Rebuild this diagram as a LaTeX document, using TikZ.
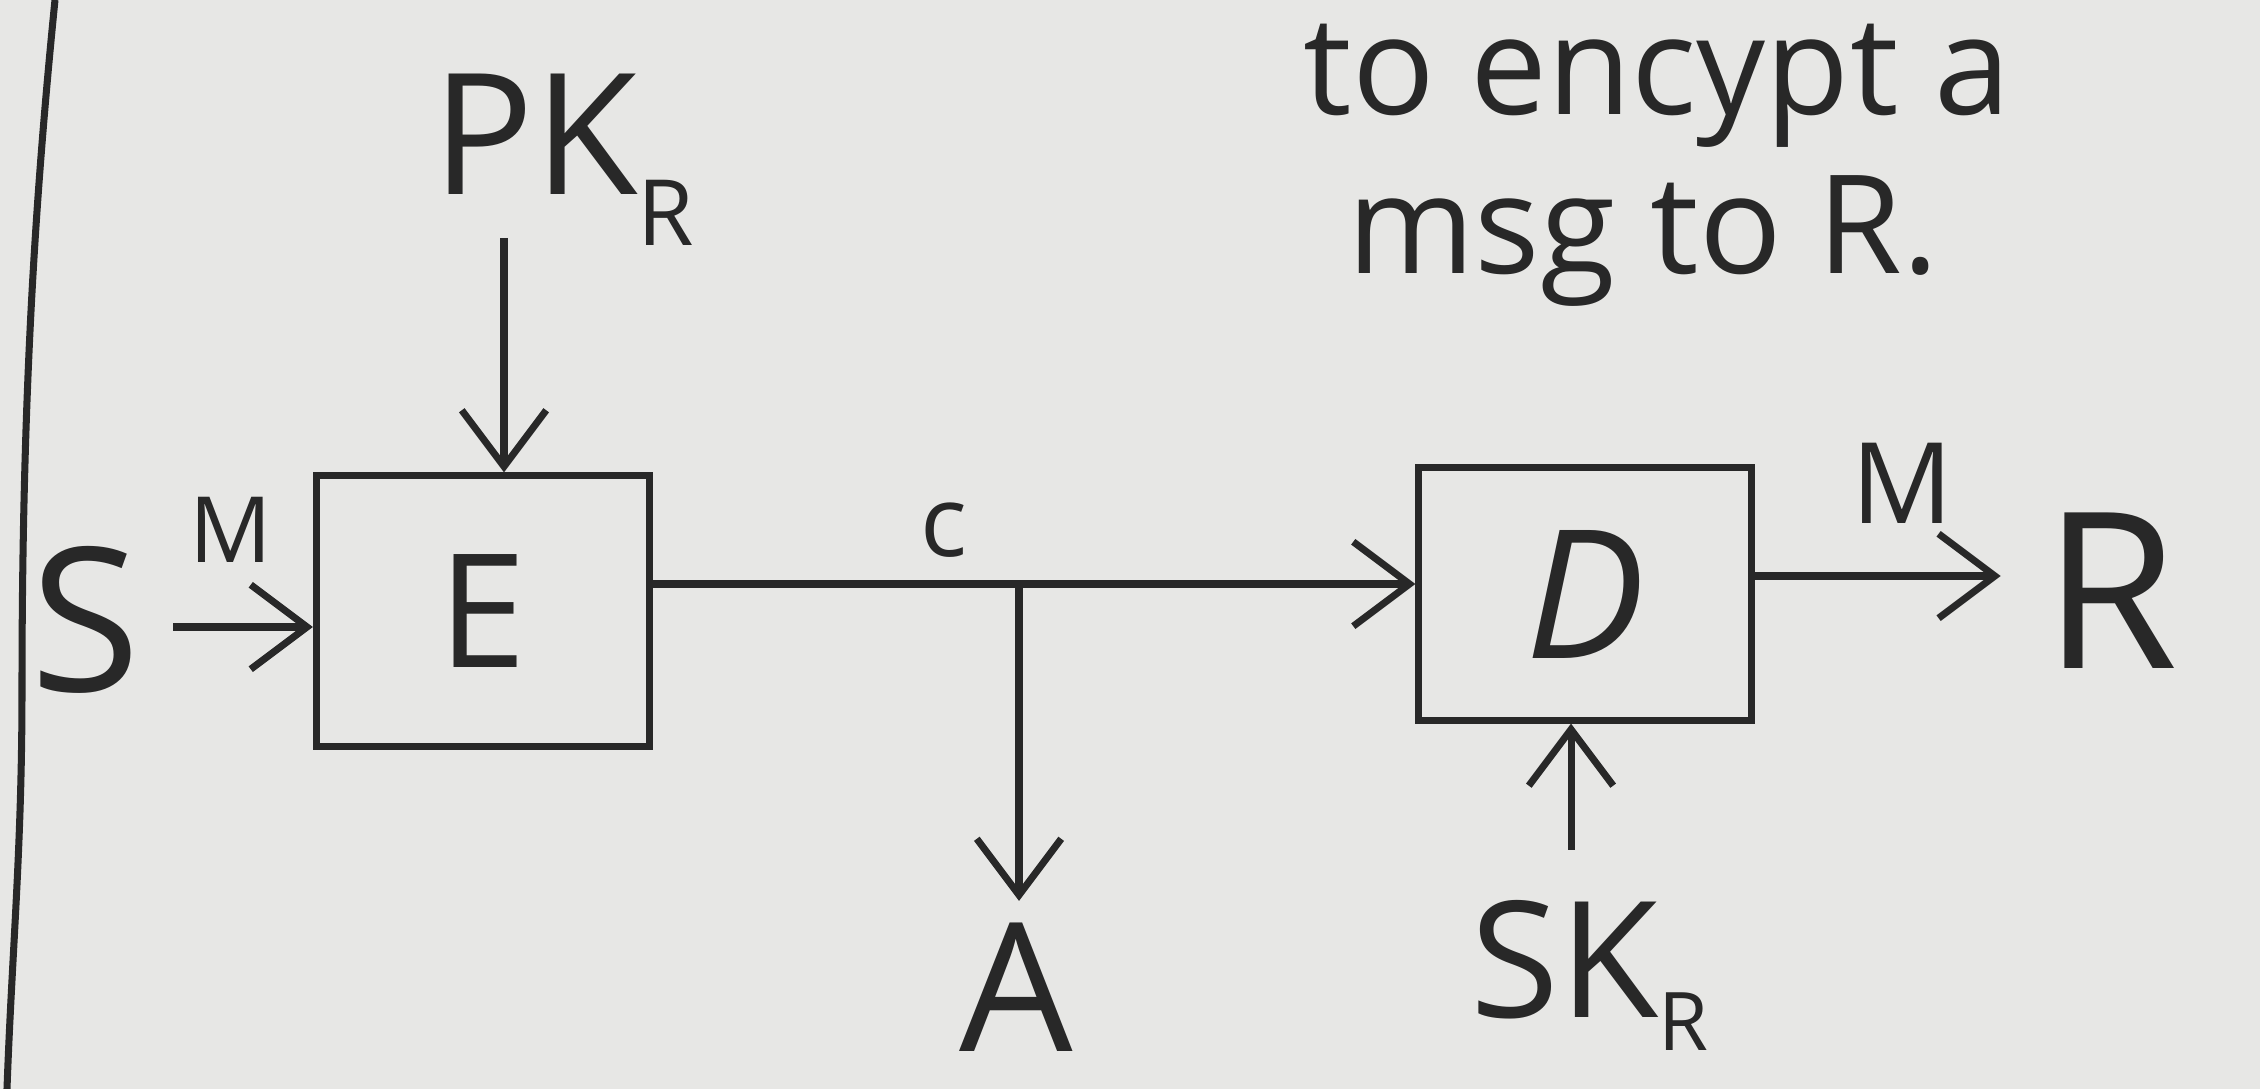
\documentclass[tikz,border=0pt]{standalone}
\usepackage{fontspec}
\setmainfont{Open Sans}
\usetikzlibrary{arrows.meta}
\definecolor{paper}{RGB}{231,231,229}
\definecolor{ink}{RGB}{40,40,40}
\begin{document}
\begin{tikzpicture}[x=0.01cm,y=-0.01cm]
\tikzset{
  box/.style={draw=ink, line width=2pt, inner sep=0pt, text=ink},
  lbl/.style={text=ink, inner sep=0pt},
  arr/.style={draw=ink, line width=2pt, -{Straight Barb[length=16pt,width=24pt,line width=2pt]}},
}
\fill[paper] (0,0) rectangle (2260,1089);
\useasboundingbox (0,0) rectangle (2260,1089);
% margin line
\draw[ink, line width=2pt] (55,0) .. controls (35,200) and (22,400) .. (22,690) .. controls (22,850) and (12,950) .. (7,1089);
% boxes
\node[box, minimum width=3.33cm, minimum height=2.7cm, font=\fontsize{45pt}{50pt}\selectfont] (E) at (483,611) {E};
\node[box, minimum width=3.32cm, minimum height=2.52cm, font=\fontsize{51pt}{56pt}\selectfont] (D) at (1585,594) {\itshape D};
% labels
\node[lbl, font=\fontsize{57pt}{60pt}\selectfont] (S) at (86,620) {S};
\node[lbl, font=\fontsize{26pt}{28pt}\selectfont] (M1) at (231,530) {M};
\node[lbl, anchor=base west, font=\fontsize{48pt}{50pt}\selectfont] (PK) at (432,195) {PK\raisebox{-0.3em}{\fontsize{26pt}{28pt}\selectfont R}};
\node[lbl, font=\fontsize{28pt}{30pt}\selectfont] (c) at (944,530) {c};
\node[lbl, font=\fontsize{51pt}{56pt}\selectfont] (A) at (1016,987) {A};
\node[lbl, font=\fontsize{32pt}{34pt}\selectfont] (M2) at (1902,483) {M};
\node[lbl, font=\fontsize{62pt}{66pt}\selectfont] (R) at (2111,591) {R};
\node[lbl, anchor=base west, font=\fontsize{46pt}{50pt}\selectfont] (SK) at (1470,1018) {SK\raisebox{-0.2em}{\fontsize{23pt}{25pt}\selectfont R}};
\node[lbl, anchor=base, font=\fontsize{39pt}{45pt}\selectfont] (note1) at (1657,115) {to encypt a};
\node[lbl, anchor=base, font=\fontsize{39pt}{45pt}\selectfont] (note2) at (1643,274) {msg to R.};
% connectors
\coordinate (sm) at (173,627);
\draw[arr] (sm) -- (sm -| E.west);
\coordinate (pk0) at (504,238);
\draw[arr] (pk0) -- (pk0 |- E.north);
\coordinate (J) at (1019,584);
\draw[arr] (E.east |- J) -- (D.west |- J);
\draw[arr, shorten >=6pt] (J) -- (J |- A.north);
\coordinate (dr) at (1751,576);
\draw[arr, shorten >=12pt] (dr -| D.east) -- (dr -| R.west);
\coordinate (sk0) at (1571,850);
\draw[arr] (sk0) -- (sk0 |- D.south);
\end{tikzpicture}
\end{document}
